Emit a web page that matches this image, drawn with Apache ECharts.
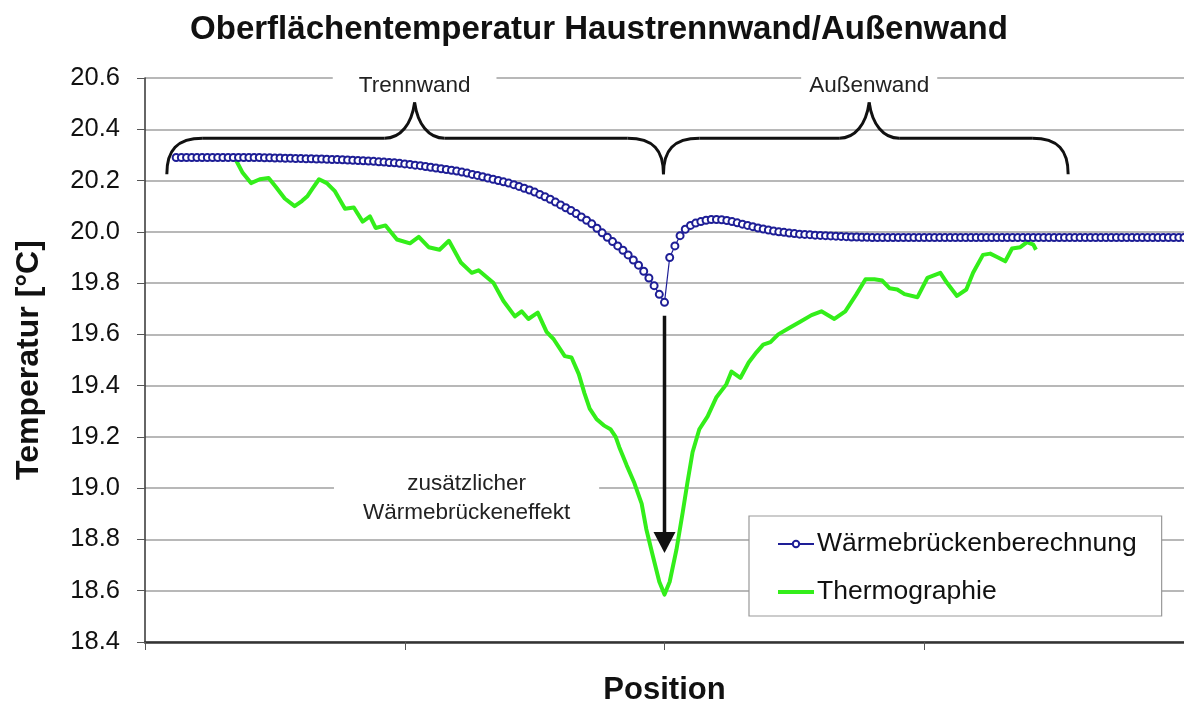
<!DOCTYPE html>
<html>
<head>
<meta charset="utf-8">
<script src="https://cdn.jsdelivr.net/npm/echarts@6/dist/echarts.min.js"></script>
<style>
html,body{margin:0;padding:0;background:#fff;}
#main{width:1184px;height:711px;}
</style>
</head>
<body>
<div id="main"></div>
<script>
// ---- data ----
const titleText = 'Oberflächentemperatur Haustrennwand/Außenwand';
const xName = 'Position';
const yName = 'Temperatur [°C]';
const seriesNames = ['Wärmebrückenberechnung', 'Thermographie'];

// Wärmebrückenberechnung: evenly spaced computed points, first point at position 6
const blueStart = 6;
const blueTemp = [
20.29,20.29,20.29,20.29,20.29,20.29,20.29,20.29,20.29,20.29,20.29,20.29,20.29,20.29,20.29,20.29,20.29,
20.289,20.289,20.288,20.288,20.287,20.287,20.286,20.286,20.285,20.285,20.284,20.284,20.283,20.282,20.282,20.281,20.28,20.279,20.278,20.277,20.276,20.275,20.273,20.272,20.27,20.269,20.267,20.265,
20.263,20.26,20.258,20.255,20.252,20.249,20.246,20.243,20.24,20.237,
20.233,20.229,20.224,20.22,20.215,20.21,20.205,20.2,20.195,20.19,
20.184,20.177,20.17,20.163,20.155,20.146,20.137,20.127,20.116,20.105,
20.094,20.083,20.071,20.058,20.045,20.031,20.014,19.996,19.979,19.962,
19.945,19.928,19.91,19.89,19.87,19.846,19.82,19.79,19.756,19.725,
19.9,19.945,19.985,20.01,20.025,20.034,20.04,20.045,20.048,20.048,
20.047,20.044,20.04,20.035,20.03,20.025,20.02,20.015,20.011,20.007,
20.003,20.0,19.998,19.995,19.993,19.991,19.99,19.989,19.987,19.986,
19.985,19.984,19.983,19.982,19.981,19.98,19.98,19.979,19.979,
19.978,19.978,19.978,19.978,19.978,19.978,19.978,19.978,19.978,19.978,
19.978,19.978,19.978,19.978,19.978,19.978,19.978,19.978,19.978,19.978,
19.978,19.978,19.978,19.978,19.978,19.978,19.978,19.978,19.978,19.978,
19.978,19.978,19.978,19.978,19.978,19.978,19.978,19.978,19.978,19.978,
19.978,19.978,19.978,19.978,19.978,19.978,19.978,19.978,19.978,19.978,
19.978,19.978,19.978,19.978,19.978,19.978,19.978,19.978,19.978,19.978,
19.978
];

// Thermographie: measured profile
const greenPos = [16.7,17.5,18.8,20.4,22.1,23.8,25.2,26.9,28.8,30.2,31.3,32.3,33.5,35.0,36.5,38.5,40.2,41.9,43.3,44.4,46.3,48.5,51.0,52.7,54.6,56.7,58.5,60.8,62.9,64.2,67.1,69.0,71.2,72.5,73.8,75.6,77.3,78.7,80.8,82.1,83.5,84.6,85.6,86.9,88.3,89.6,90.6,91.3,92.7,94.2,95.6,96.5,97.7,99.0,100.0,101.0,102.3,103.5,104.4,105.4,106.7,108.3,110.0,111.9,112.9,114.6,116.2,117.7,119.0,120.4,121.9,124.0,126.2,128.3,130.2,132.7,134.8,136.9,138.7,140.4,141.9,143.3,144.8,146.2,148.7,150.6,153.1,154.4,156.3,158.1,159.4,161.3,162.7,164.2,165.6,166.9,168.5,169.8,171.0,171.5];
const greenTemp = [20.29,20.28,20.23,20.19,20.205,20.21,20.175,20.13,20.10,20.12,20.14,20.17,20.205,20.19,20.16,20.09,20.095,20.04,20.06,20.015,20.025,19.97,19.955,19.98,19.94,19.93,19.965,19.88,19.84,19.85,19.80,19.73,19.67,19.69,19.66,19.685,19.61,19.58,19.515,19.51,19.445,19.37,19.31,19.27,19.245,19.23,19.20,19.16,19.09,19.02,18.94,18.84,18.74,18.635,18.585,18.635,18.76,18.905,19.02,19.14,19.23,19.28,19.355,19.405,19.455,19.43,19.49,19.53,19.56,19.57,19.60,19.625,19.65,19.675,19.69,19.66,19.69,19.755,19.815,19.815,19.81,19.78,19.775,19.757,19.745,19.82,19.84,19.80,19.75,19.775,19.84,19.91,19.915,19.90,19.885,19.935,19.94,19.96,19.95,19.93];

// annotations (data units)
const braces = [
  {from: 4.2, to: 99.8, peak: 51.9, label: 'Trennwand', pad: 26},
  {from: 99.8, to: 177.7, peak: 139.4, label: 'Außenwand', pad: 8}
];
const braceLevels = {tip: 20.225, bar: 20.365, peak: 20.505, label: 20.571};
const arrowPos = 100, arrowFrom = 19.673, arrowTo = 18.747;
const effectText = 'zusätzlicher\nWärmebrückeneffekt';
const effectPos = [61.9, 18.96];

const FONT = "'Liberation Sans', Arial, Helvetica, sans-serif";
const BLUE = '#1e1e96';
const GREEN = '#33ee1a';

const chart = echarts.init(document.getElementById('main'), null, {renderer: 'canvas'});
const option = {
  animation: false,
  backgroundColor: '#fff',
  title: {
    text: titleText, left: 594, top: 8, textAlign: 'center',
    textStyle: {fontFamily: FONT, fontWeight: 'bold', fontSize: 33, color: '#111'}
  },
  legend: {
    orient: 'vertical', left: 749, top: 516,
    data: [
      {name: seriesNames[0]},
      {name: seriesNames[1], itemStyle: {opacity: 0}, lineStyle: {width: 4, color: GREEN}}
    ],
    backgroundColor: '#fff', borderColor: '#999', borderWidth: 1.2,
    padding: [13, 25, 9, 27], itemGap: 18,
    itemWidth: 36, itemHeight: 8,
    textStyle: {fontFamily: FONT, fontSize: 26.5, color: '#111', lineHeight: 30, padding: [0, 0, 0, -2]}
  },
  grid: {left: 145, top: 78, width: 1040, height: 570, containLabel: false},
  xAxis: {
    type: 'value', min: 0, max: 200, interval: 50,
    name: xName, nameLocation: 'middle', nameGap: 33,
    nameTextStyle: {fontFamily: FONT, fontWeight: 'bold', fontSize: 31, color: '#111'},
    axisLine: {show: true, lineStyle: {color: '#333', width: 2.5}},
    axisTick: {show: true, inside: false, length: 8, lineStyle: {color: '#555', width: 1}},
    axisLabel: {show: false},
    splitLine: {show: false}
  },
  yAxis: {
    type: 'value', min: 18.4, max: 20.6, interval: 0.2,
    name: yName, nameLocation: 'middle', nameGap: 100,
    nameTextStyle: {fontFamily: FONT, fontWeight: 'bold', fontSize: 32, color: '#111'},
    axisLine: {show: true, lineStyle: {color: '#333', width: 1.5}},
    axisTick: {show: true, inside: false, length: 8, lineStyle: {color: '#555', width: 1}},
    axisLabel: {fontFamily: FONT, fontSize: 25.5, color: '#111', margin: 25,
      formatter: v => v.toFixed(1)},
    splitLine: {show: true, lineStyle: {color: '#a0a0a0', width: 1.5}}
  },
  series: [
    {
      name: seriesNames[1], type: 'line', z: 2,
      data: greenPos.map((p, i) => [p, greenTemp[i]]),
      showSymbol: false, symbol: 'none',
      lineStyle: {color: GREEN, width: 4, join: 'round'},
      itemStyle: {color: GREEN}
    },
    {
      name: seriesNames[0], type: 'line', z: 3,
      data: blueTemp.map((v, i) => [blueStart + i, v]),
      symbol: 'emptyCircle', symbolSize: 7, showAllSymbol: true,
      lineStyle: {color: BLUE, width: 1.2},
      itemStyle: {color: BLUE, borderColor: BLUE, borderWidth: 1.8}
    }
  ]
};
chart.setOption(option);

function px(x, y) { return chart.convertToPixel({gridIndex: 0}, [x, y]); }

const g = [];
const stroke = {stroke: '#111', lineWidth: 3, fill: null};
function curve(x1, y1, c1x, c1y, c2x, c2y, x2, y2) {
  g.push({type: 'bezierCurve', z: 10,
    shape: {x1: x1, y1: y1, cpx1: c1x, cpy1: c1y, cpx2: c2x, cpy2: c2y, x2: x2, y2: y2},
    style: Object.assign({}, stroke)});
}
function seg(x1, y1, x2, y2) {
  g.push({type: 'line', z: 10, shape: {x1: x1, y1: y1, x2: x2, y2: y2},
    style: Object.assign({}, stroke)});
}
braces.forEach(b => {
  const a = px(b.from, braceLevels.tip);
  const e = px(b.to, braceLevels.tip);
  const p = px(b.peak, braceLevels.peak);
  const barY = px(b.from, braceLevels.bar)[1];
  const tipY = a[1];
  curve(a[0], tipY, a[0], tipY - 24, a[0] + 10, barY, a[0] + 36, barY);
  seg(a[0] + 36, barY, p[0] - 30, barY);
  curve(p[0] - 30, barY, p[0] - 14, barY, p[0] - 3, barY - 14, p[0], p[1]);
  curve(p[0], p[1], p[0] + 3, barY - 14, p[0] + 14, barY, p[0] + 30, barY);
  seg(p[0] + 30, barY, e[0] - 36, barY);
  curve(e[0] - 36, barY, e[0] - 10, barY, e[0], tipY - 24, e[0], tipY);
  const l = px(b.peak, braceLevels.label);
  g.push({type: 'text', z: 11, x: l[0], y: l[1],
    style: {text: b.label, font: '22.5px ' + FONT, fill: '#222', align: 'center', verticalAlign: 'middle',
      backgroundColor: '#fff', padding: [3, b.pad, 3, b.pad]}});
});
// arrow
const at = px(arrowPos, arrowFrom), ab = px(arrowPos, arrowTo);
g.push({type: 'line', z: 10, shape: {x1: at[0], y1: at[1], x2: ab[0], y2: ab[1] - 18},
  style: {stroke: '#111', lineWidth: 3.5}});
g.push({type: 'polygon', z: 10, shape: {points: [[ab[0] - 11, ab[1] - 21], [ab[0] + 11, ab[1] - 21], [ab[0], ab[1]]]},
  style: {fill: '#111'}});
// effect label
const ep = px(effectPos[0], effectPos[1]);
g.push({type: 'text', z: 11, x: ep[0], y: ep[1],
  style: {text: effectText, font: '22.5px ' + FONT, fill: '#222', align: 'center', verticalAlign: 'middle',
    lineHeight: 29, backgroundColor: '#fff', padding: [4, 29, 4, 29]}});
chart.setOption({graphic: g});
</script>
</body>
</html>
